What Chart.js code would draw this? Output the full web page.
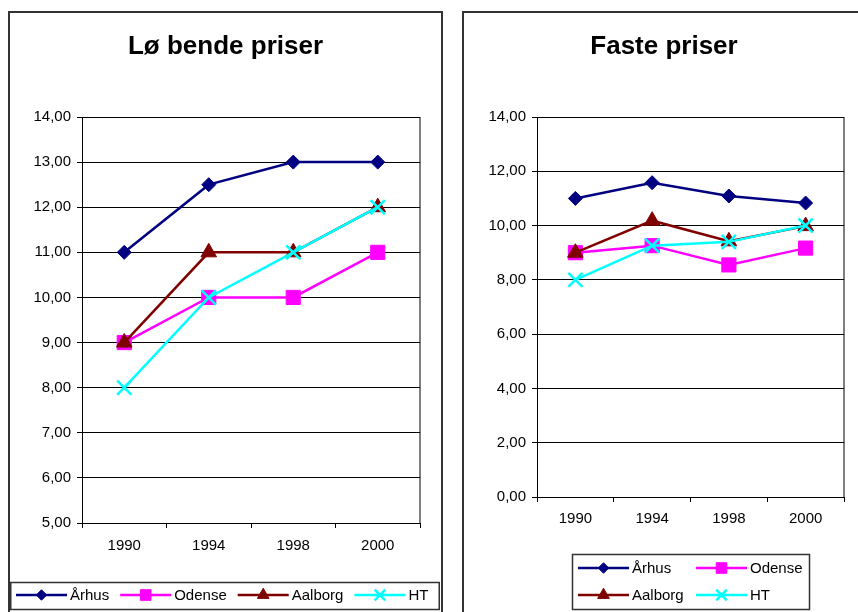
<!DOCTYPE html>
<html>
<head>
<meta charset="utf-8">
<script src="https://cdn.jsdelivr.net/npm/chart.js@4/dist/chart.umd.min.js"></script>
<style>
  html, body { margin: 0; padding: 0; background: #fff; overflow: hidden; width: 858px; height: 612px; }
  .frame { position: absolute; border: 2px solid #333; background: #fff; }
  #f1 { left: 8px; top: 11px; width: 431px; height: 640px; }
  #f2 { left: 462px; top: 11px; width: 400px; height: 640px; }
  canvas { display: block; }
</style>
</head>
<body>
<div class="frame" id="f1"><canvas id="c1" width="431" height="600"></canvas></div>
<div class="frame" id="f2"><canvas id="c2" width="400" height="600"></canvas></div>
<script>
// Categories and series
const years = ['1990', '1994', '1998', '2000'];
const cities = ['Århus', 'Odense', 'Aalborg', 'HT'];

// Løbende priser (current prices)
const lobAarhus  = [11.0, 12.5, 13.0, 13.0];
const lobOdense  = [9.0, 10.0, 10.0, 11.0];
const lobAalborg = [9.0, 11.0, 11.0, 12.0];
const lobHT      = [8.0, 10.0, 11.0, 12.0];

// Faste priser (fixed prices)
const fastAarhus  = [11.0, 11.58, 11.09, 10.83];
const fastOdense  = [9.0, 9.26, 8.55, 9.17];
const fastAalborg = [9.0, 10.18, 9.42, 9.98];
const fastHT      = [8.0, 9.26, 9.40, 10.0];

// Value-axis ticks
const lobTicks  = { min: 5, max: 14, step: 1 };
const fastTicks = { min: 0, max: 14, step: 2 };

const FONT = '"Liberation Sans", Arial, sans-serif';

const seriesStyle = [
  { color: '#000080', pointStyle: 'rectRot',  radius: 7,  bw: 1,   order: 4 },
  { color: '#FF00FF', pointStyle: 'rect',     radius: 10, bw: 1,   order: 3 },
  { color: '#800000', pointStyle: 'triangle', radius: 9,  bw: 1,   order: 2 },
  { color: '#00FFFF', pointStyle: 'crossRot', radius: 10, bw: 2.5, order: 1 }
];

function makeDatasets(seriesList) {
  return seriesList.map((values, i) => {
    const s = seriesStyle[i];
    return {
      label: cities[i],
      data: values,
      borderColor: s.color,
      backgroundColor: s.color,
      borderWidth: 2.5,
      tension: 0,
      pointStyle: s.pointStyle,
      pointRadius: s.radius,
      pointBackgroundColor: s.color,
      pointBorderColor: s.color,
      pointBorderWidth: s.bw,
      order: s.order
    };
  });
}

const fmt = v => v.toFixed(2).replace('.', ',');

// Chart title drawn centred across the frame
const frameTitle = {
  id: 'frameTitle',
  afterDraw(chart, args, opts) {
    const ctx = chart.ctx;
    ctx.save();
    ctx.font = 'bold 26px ' + FONT;
    ctx.fillStyle = '#000';
    ctx.textAlign = 'center';
    ctx.textBaseline = 'middle';
    ctx.fillText(opts.text, chart.width / 2, opts.y);
    ctx.restore();
  }
};

// Border around the plotting area
const plotFrame = {
  id: 'plotFrame',
  beforeDatasetsDraw(chart) {
    const a = chart.chartArea, ctx = chart.ctx;
    ctx.save();
    ctx.strokeStyle = '#000';
    ctx.lineWidth = 1;
    ctx.strokeRect(Math.round(a.left) + 0.5, Math.round(a.top) + 0.5,
                   Math.round(a.right - a.left) - 0.5, Math.round(a.bottom - a.top));
    ctx.restore();
  }
};

// Boxed legend with line-and-marker samples
const boxLegend = {
  id: 'boxLegend',
  afterDraw(chart, args, L) {
    const ctx = chart.ctx;
    ctx.save();
    ctx.strokeStyle = '#333';
    ctx.lineWidth = 1.5;
    ctx.strokeRect(L.box[0], L.box[1], L.box[2], L.box[3]);
    ctx.font = '15px ' + FONT;
    ctx.textBaseline = 'middle';
    ctx.textAlign = 'left';
    let x = L.x0;
    chart.data.datasets.forEach((ds, i) => {
      const col = i % L.cols;
      if (L.colWidth) x = L.x0 + col * L.colWidth;
      const y = L.y0 + Math.floor(i / L.cols) * L.rowHeight;
      ctx.strokeStyle = ds.borderColor;
      ctx.lineWidth = 2.5;
      ctx.beginPath();
      ctx.moveTo(x, y);
      ctx.lineTo(x + 51, y);
      ctx.stroke();
      ctx.fillStyle = ds.pointBackgroundColor;
      ctx.strokeStyle = ds.pointBorderColor;
      ctx.lineWidth = ds.pointBorderWidth;
      Chart.helpers.drawPoint(ctx, {
        pointStyle: ds.pointStyle,
        radius: ds.pointRadius * 0.75,
        rotation: 0,
        borderWidth: ds.pointBorderWidth
      }, x + 25.5, y);
      ctx.fillStyle = '#000';
      ctx.fillText(ds.label, x + 54, y + 0.5);
      if (!L.colWidth) x += 54 + ctx.measureText(ds.label).width + 11;
    });
    ctx.restore();
  }
};

function makeChart(id, title, seriesList, ticks, geo) {
  return new Chart(document.getElementById(id), {
    type: 'line',
    data: { labels: years, datasets: makeDatasets(seriesList) },
    plugins: [plotFrame, frameTitle, boxLegend],
    options: {
      responsive: false,
      animation: false,
      events: [],
      layout: { padding: { left: 0, right: geo.padRight, top: geo.padTop, bottom: geo.padBottom } },
      plugins: {
        legend: { display: false },
        tooltip: { enabled: false },
        title: { display: false },
        frameTitle: { text: title, y: 34 },
        boxLegend: geo.legend
      },
      scales: {
        x: {
          type: 'category',
          offset: true,
          afterFit: s => { s.height = 40; },
          grid: { offset: true, drawOnChartArea: false, drawTicks: true, tickLength: 5, color: '#000', lineWidth: 1 },
          border: { display: true, color: '#000', width: 1 },
          ticks: { color: '#000', font: { family: FONT, size: 15 }, padding: geo.xPad, maxRotation: 0 }
        },
        y: {
          min: ticks.min,
          max: ticks.max,
          afterFit: s => { s.width = geo.yWidth; },
          grid: { color: '#000', lineWidth: 1, tickLength: 5, drawTicks: true },
          border: { display: true, color: '#000', width: 1 },
          ticks: {
            stepSize: ticks.step,
            color: '#000',
            padding: 6,
            font: { family: FONT, size: 15 },
            callback: v => fmt(v)
          }
        }
      }
    }
  });
}

makeChart('c1', 'Lø bende priser', [lobAarhus, lobOdense, lobAalborg, lobHT], lobTicks, {
  padRight: 21, padTop: 104, padBottom: 50, yWidth: 72, xPad: 9,
  legend: { box: [0.75, 569.5, 428.5, 27], x0: 6, y0: 582, cols: 4, colWidth: 0, rowHeight: 0 }
});

makeChart('c2', 'Faste priser', [fastAarhus, fastOdense, fastAalborg, fastHT], fastTicks, {
  padRight: 20, padTop: 104, padBottom: 76, yWidth: 73, xPad: 8,
  legend: { box: [108.5, 541.5, 237, 55], x0: 114, y0: 555, cols: 2, colWidth: 118, rowHeight: 27 }
});
</script>
</body>
</html>
